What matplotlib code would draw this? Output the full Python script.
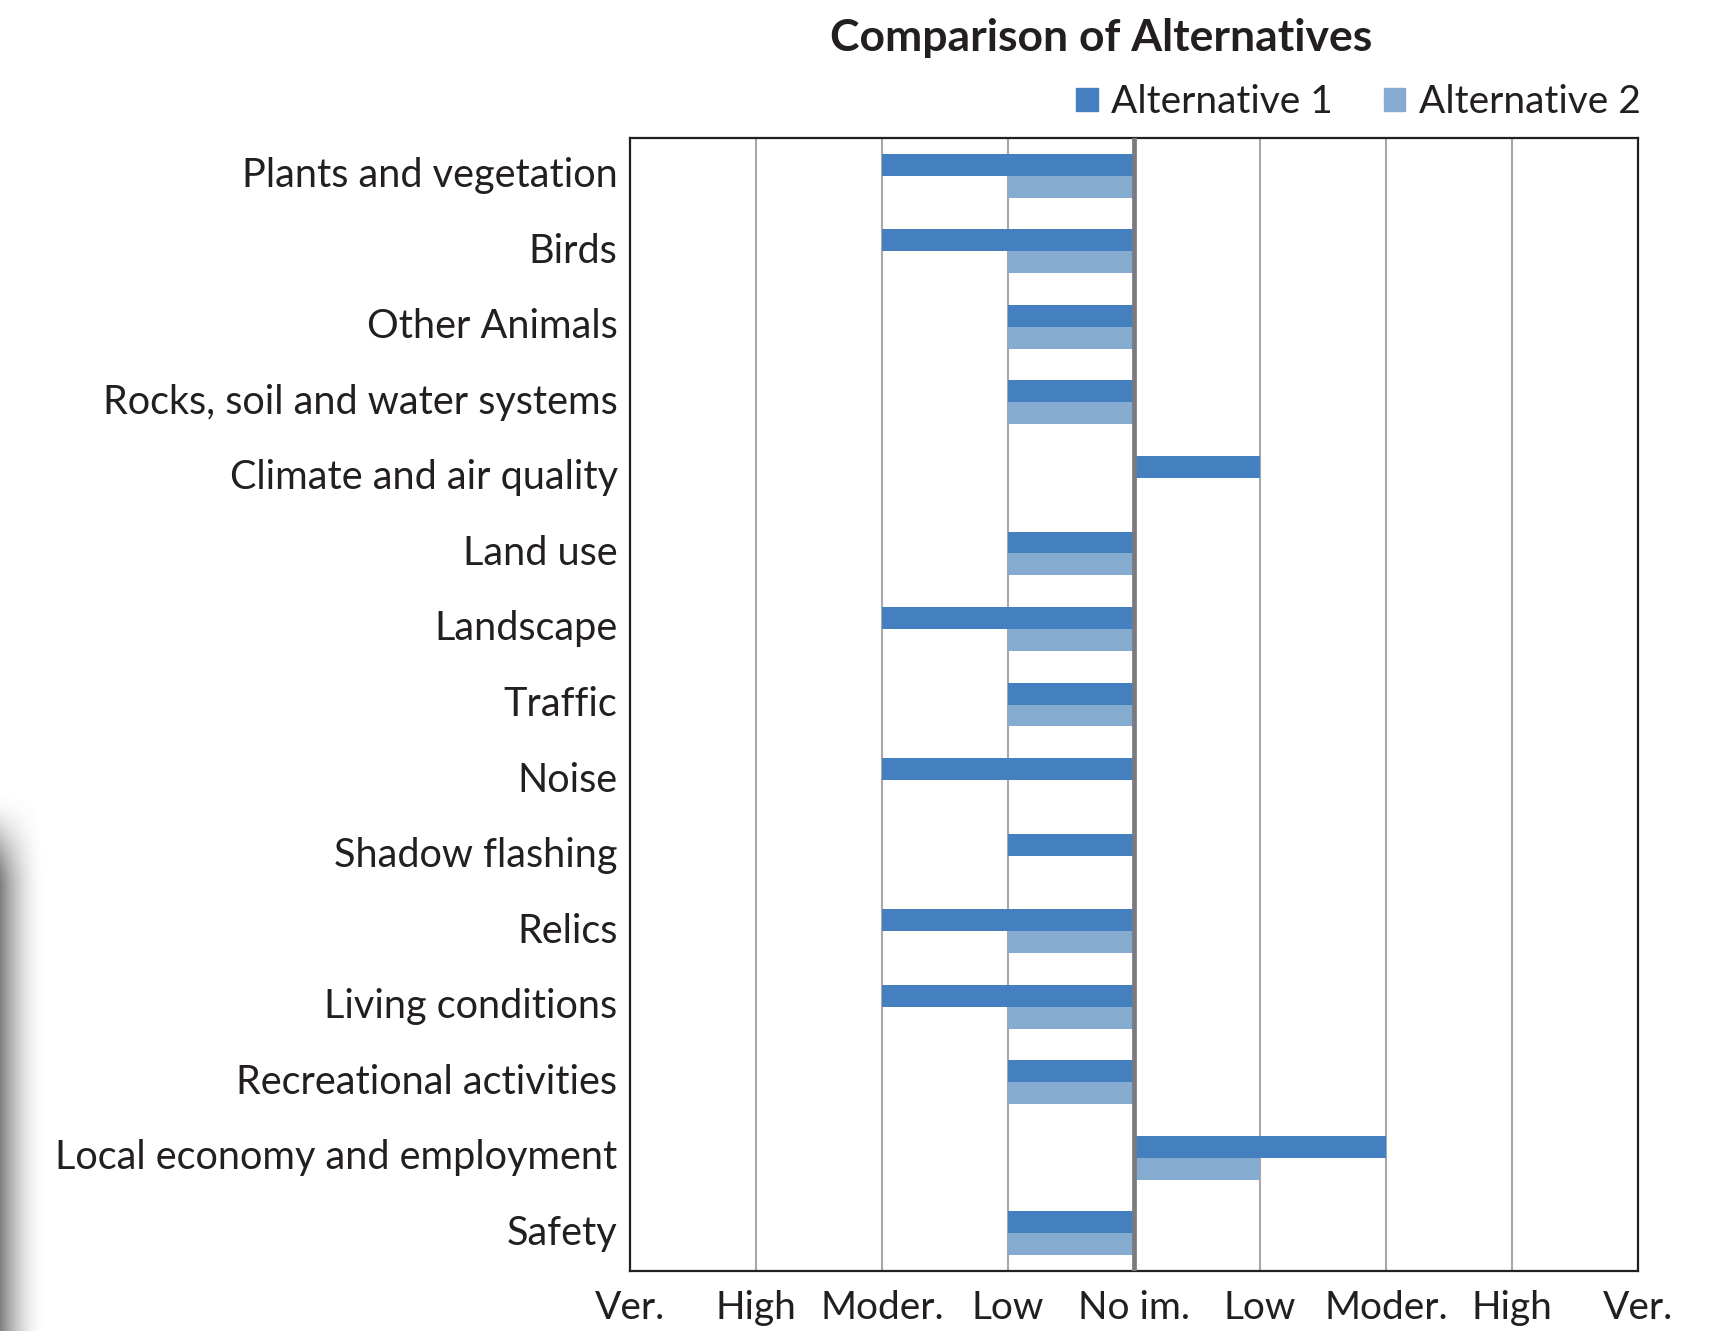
import numpy as np
import matplotlib
matplotlib.use("Agg")
import matplotlib.pyplot as plt
from matplotlib.patches import Patch

plt.rcParams['font.family'] = ['Lato', 'DejaVu Sans']

categories = ["Plants and vegetation", "Birds", "Other Animals",
              "Rocks, soil and water systems", "Climate and air quality",
              "Land use", "Landscape", "Traffic", "Noise", "Shadow flashing",
              "Relics", "Living conditions", "Recreational activities",
              "Local economy and employment", "Safety"]
# impact: -4 very negative ... 0 no impact ... +4 very positive
alt1 = [-2, -2, -1, -1, 1, -1, -2, -1, -2, -1, -2, -2, -1, 2, -1]
alt2 = [-1, -1, -1, -1, 0, -1, -1, -1, 0, 0, -1, -1, -1, 1, -1]
tick_vals = [-4, -3, -2, -1, 0, 1, 2, 3, 4]
tick_labels = ["Ver.", "High", "Moder.", "Low", "No im.", "Low", "Moder.", "High", "Ver."]

c1 = "#4480bf"
c2 = "#86abd1"
txt = "#231f20"

fig = plt.figure(figsize=(17.18, 13.31), dpi=100)
ax = fig.add_axes([630 / 1718, 1 - 1271 / 1331, 1008 / 1718, 1133 / 1331])

y = np.arange(len(categories))
h = 0.29
ax.barh(y - h / 2, alt1, height=h, color=c1, zorder=3)
ax.barh(y + h / 2, alt2, height=h, color=c2, zorder=3)

ax.set_xlim(-4, 4)
ax.set_ylim(len(categories) - 0.5, -0.5)
ax.set_yticks(y)
ax.set_yticklabels(categories, fontsize=28.5, color=txt)
for lab in ax.get_yticklabels():
    lab.set_va("center")
ax.set_xticks(tick_vals)
ax.set_xticklabels(tick_labels, fontsize=28, color=txt)
ax.tick_params(axis='y', length=0, pad=9)
ax.tick_params(axis='x', length=0, pad=14)

for v in tick_vals[1:-1]:
    if v == 0:
        ax.axvline(v, color="#7a7a80", lw=3.4, zorder=4)
    else:
        ax.axvline(v, color="#a8a8ac", lw=1.5, zorder=1)

for s in ax.spines.values():
    s.set_color(txt)
    s.set_linewidth(1.6)

fig.text(1101 / 1718, 1 - 38 / 1331, "Comparison of Alternatives", ha="center", va="center",
         fontsize=32, fontweight="bold", color=txt)

handles = [Patch(color=c1, label="Alternative 1"), Patch(color=c2, label="Alternative 2")]
fig.legend(handles=handles, loc="center right", bbox_to_anchor=(1656 / 1718, 1 - 102 / 1331),
           ncol=2, frameon=False, fontsize=28, handlelength=0.55, handleheight=0.55,
           handletextpad=0.35, columnspacing=1.3, labelcolor=txt, borderaxespad=0)

# page-edge shadow on the left
sh = fig.add_axes([0, 0, 45 / 1718, 540 / 1331])
gx = np.linspace(1, 0, 60) ** 1.8
t = np.clip(np.linspace(1, 0, 200) * 5.5, 0, 1)
gy = t * t * (3 - 2 * t)
g = np.outer(gy, gx)
rgba = np.zeros((200, 60, 4))
rgba[..., :3] = 0.5
rgba[..., 3] = g
sh.imshow(rgba, aspect="auto", extent=[0, 1, 0, 1], origin="lower")
sh.axis("off")

fig.savefig("out.png", dpi=100)
